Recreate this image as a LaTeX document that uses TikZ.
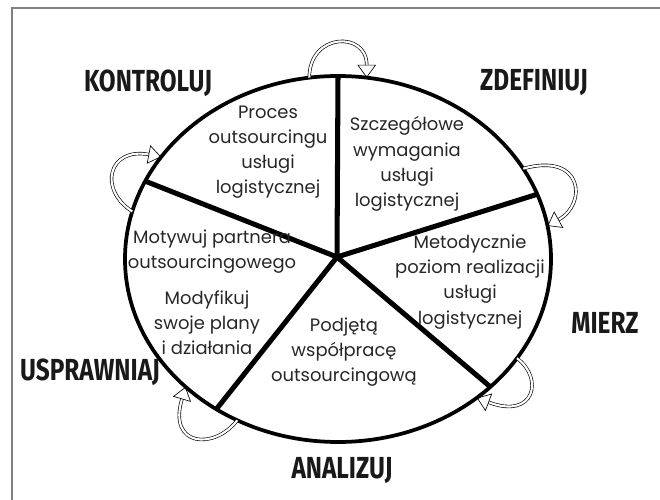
\documentclass[tikz,border=0pt]{standalone}
\usepackage{fontspec}
\setmainfont{Poppins}
\newfontfamily\phasefont[FakeStretch=0.8]{Fira Sans}
\usetikzlibrary{shapes.geometric, arrows.meta}

\begin{document}
\begin{tikzpicture}[x=0.03cm, y=-0.03cm,
  sector/.style={align=center, text=black!85, font=\fontsize{15.3}{21.5}\selectfont},
  phase/.style={text=black!90, font=\phasefont\bfseries\fontsize{26}{30}\selectfont},
  spoke/.style={line width=4.3pt},
  turn/.style={double=white, double distance=1.8pt, line width=0.55pt, -{Triangle[open, length=11pt, width=16pt]}}]
\useasboundingbox (0,0) rectangle (660,500);
\draw[gray, line width=1.2pt] (12,500) -- (12,8) -- (660,8);

\node[draw, ellipse, line width=3.2pt, inner sep=0pt, outer sep=0pt, minimum width=12.78cm, minimum height=10.98cm] (ring) at (338,259) {};
\coordinate (hub) at (337,257);
\foreach \a in {90,18.7,-40.5,-129.5,158}
  \draw[spoke] (hub) -- (ring.\a);

% phases
\node[phase] (kontroluj) at (148,83) {KONTROLUJ};
\node[phase] (zdefiniuj) at (534,83) {ZDEFINIUJ};
\node[phase] (mierz) at (605,323) {MIERZ};
\node[phase] (analizuj) at (342,471) {ANALIZUJ};
\node[phase] (usprawniaj) at (90,372) {USPRAWNIAJ};

% sectors
\node[sector] (proces) at (268,152) {Proces\\outsourcingu\\usługi\\logistycznej};
\node[sector] (wymagania) at (407,164) {Szczegółowe\\wymagania\\usługi\\logistycznej};
\node[sector] (poziom) at (470,282) {Metodycznie\\poziom realizacji\\usługi\\logistycznej};
\node[sector] (wspolpraca) at (344,352) {Podjętą\\współpracę\\outsourcingową};
\node[sector] (partner) at (212,252) {Motywuj partnera\\outsourcingowego};
\node[sector] (plany) at (207,323) {Modyfikuj\\swoje plany\\i działania};

% loops
\draw[turn] (ring.99.2) .. controls +(0,-45) and +(0,-47) .. (ring.81.3);
\draw[turn] (ring.26.2) .. controls +(60,-17) and +(40,-22) .. (ring.9.9);
\draw[turn] (ring.-29.3) .. controls +(27,20) and +(58,22) .. (ring.-45);
\draw[turn] (ring.238.2) .. controls +(-23,30) and +(-18,60) .. (ring.220.2);
\draw[turn] (ring.167.5) .. controls +(-35,-23) and +(-52,-10) .. (ring.150.1);
\end{tikzpicture}
\end{document}
